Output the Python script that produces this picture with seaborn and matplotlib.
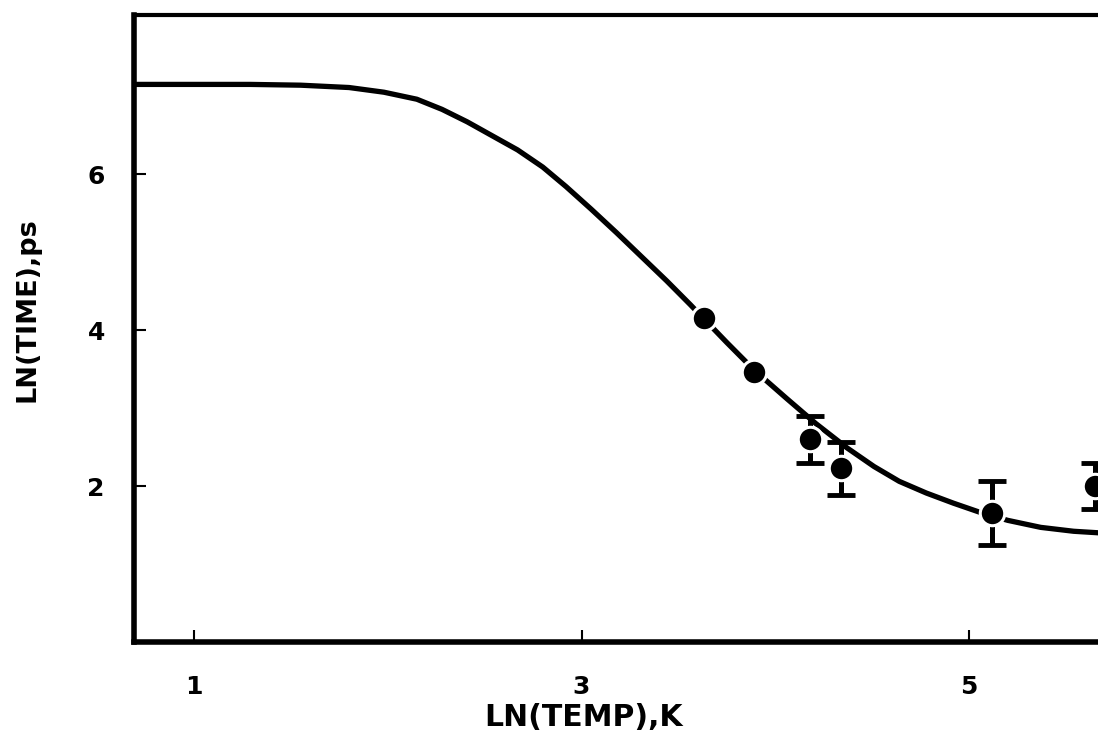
import matplotlib
matplotlib.use('Agg')
import matplotlib.pyplot as plt
import seaborn as sns

# fitted curve
curve_x = [0.69, 1.29, 1.55, 1.80, 1.98, 2.15, 2.28, 2.41, 2.54, 2.67, 2.80,
           2.92, 3.05, 3.18, 3.31, 3.44, 3.56, 3.75, 3.89, 4.06, 4.21, 4.37,
           4.51, 4.64, 4.78, 4.92, 5.06, 5.20, 5.37, 5.54, 5.67]
curve_y = [7.15, 7.15, 7.14, 7.11, 7.05, 6.96, 6.83, 6.67, 6.49, 6.31, 6.09,
           5.84, 5.55, 5.25, 4.94, 4.63, 4.33, 3.84, 3.49, 3.12, 2.80, 2.49,
           2.25, 2.06, 1.91, 1.78, 1.66, 1.56, 1.47, 1.42, 1.40]

# measured points
pt_x = [3.63, 3.89, 4.18, 4.34, 5.12, 5.65]
pt_y = [4.15, 3.46, 2.60, 2.23, 1.65, 2.00]
pt_err = [0.0, 0.0, 0.30, 0.34, 0.41, 0.30]

xticks = [1, 3, 5]
yticks = [2, 4, 6]

sns.set_style('ticks')
plt.rcParams['font.family'] = ['DejaVu Sans']
plt.rcParams['font.weight'] = 'bold'
for key in ['text.color', 'axes.edgecolor', 'axes.labelcolor',
            'xtick.color', 'ytick.color']:
    plt.rcParams[key] = 'black'

fig = plt.figure(figsize=(10.98, 7.51), dpi=100)
ax = fig.add_axes([134 / 1098, 1 - 642 / 751, 1 - 134 / 1098, 627 / 751])

sns.lineplot(x=curve_x, y=curve_y, ax=ax, color='black', linewidth=3.8,
             sort=False, zorder=2)

# error bars only where they show
ex = [x for x, e in zip(pt_x, pt_err) if e > 0]
ey = [y for y, e in zip(pt_y, pt_err) if e > 0]
ee = [e for e in pt_err if e > 0]
ax.errorbar(ex, ey, yerr=ee, fmt='none', ecolor='black', elinewidth=3.6,
            capsize=10, capthick=3.5, zorder=3)

sns.scatterplot(x=pt_x, y=pt_y, ax=ax, color='black', s=310,
                edgecolor='white', linewidth=2.2, zorder=4)

ax.set_xlim(0.69, 5.666)
ax.set_ylim(0, 8.04)
ax.set_xticks(xticks)
ax.set_yticks(yticks)
ax.tick_params(direction='in', length=8.5, width=1.5, labelsize=18)
ax.tick_params(axis='x', pad=24)
ax.tick_params(axis='y', pad=21)

ax.spines['right'].set_visible(False)
ax.spines['left'].set_linewidth(4)
ax.spines['bottom'].set_linewidth(4)
ax.spines['top'].set_linewidth(3)

ax.set_xlabel('LN(TEMP),K', fontsize=21.5, fontweight='bold')
ax.xaxis.set_label_coords(0.466, -0.097)
ax.set_ylabel('LN(TIME),ps', fontsize=19.5, fontweight='bold')
ax.yaxis.set_label_coords(-0.0975, 0.5295)

fig.savefig('out.png', dpi=100)
